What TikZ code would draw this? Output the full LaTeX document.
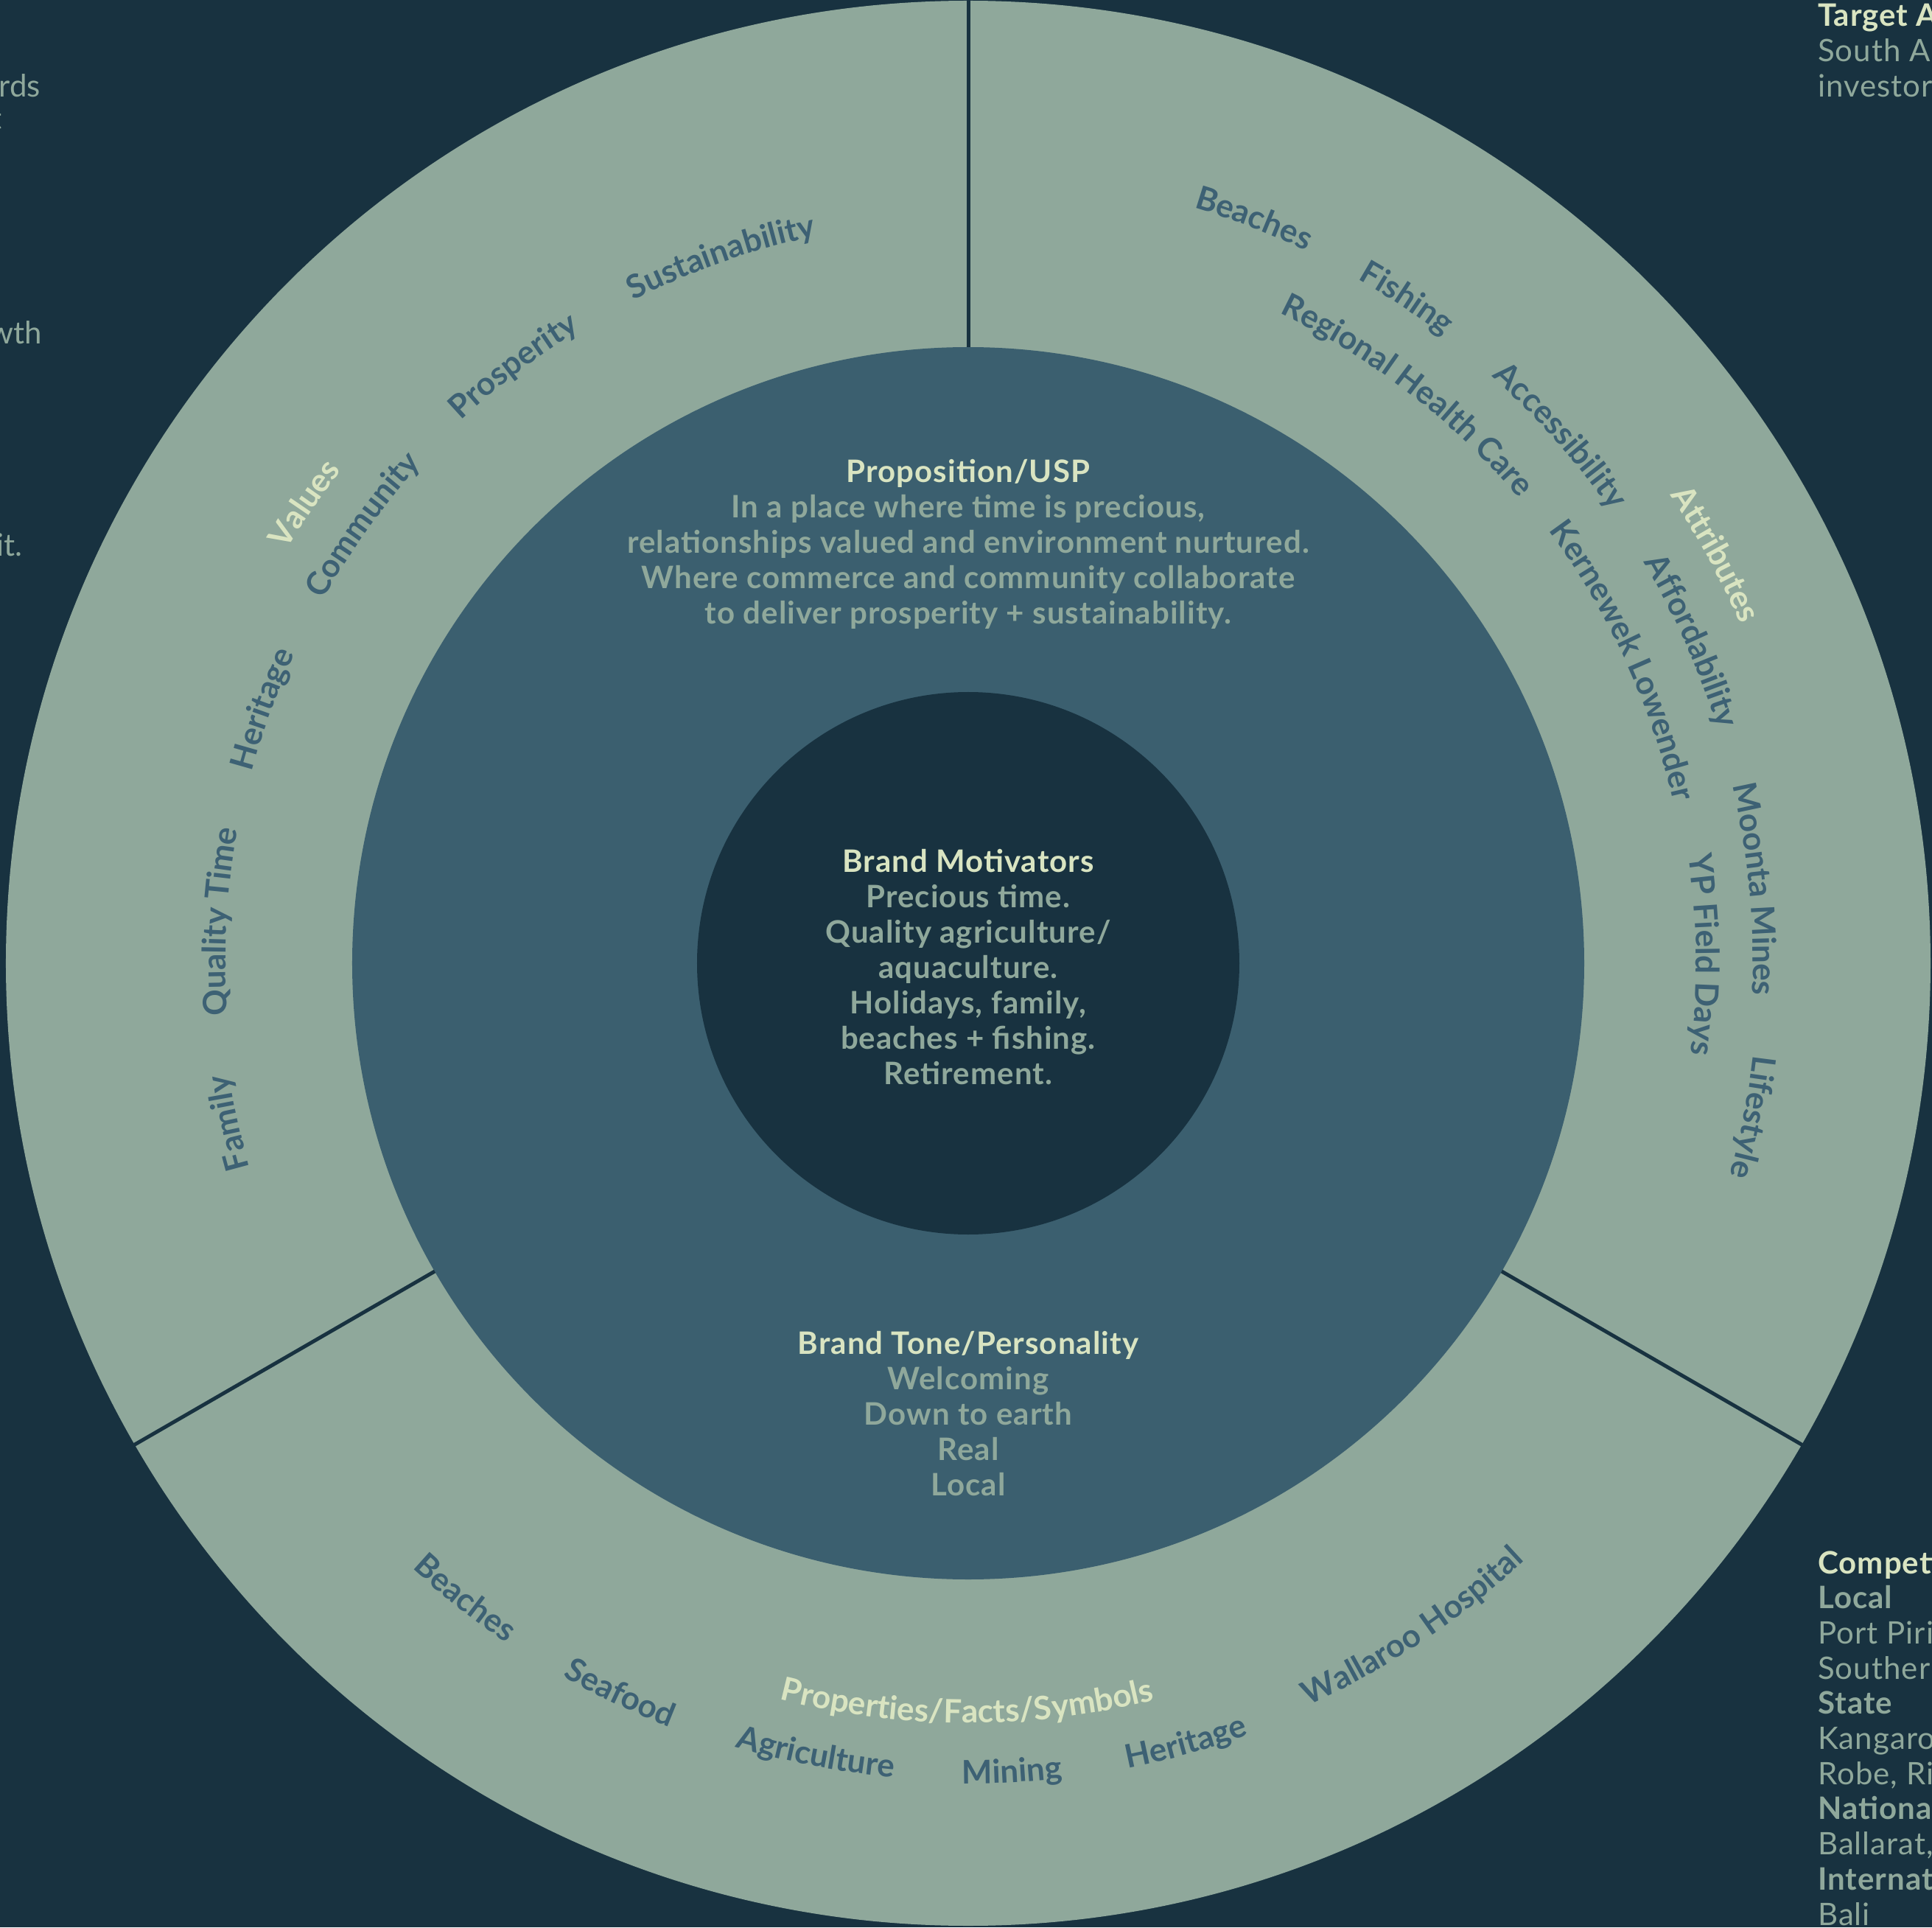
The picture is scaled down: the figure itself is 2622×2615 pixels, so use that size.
\documentclass[tikz,border=0pt]{standalone}
\usepackage{fontspec}
\setmainfont{Lato}
\usetikzlibrary{decorations.text}
\definecolor{bg}{HTML}{183240}
\definecolor{sage}{HTML}{8FA89B}
\definecolor{mid}{HTML}{3B5F6F}
\definecolor{cream}{HTML}{D9E4C1}
\definecolor{ringtxt}{HTML}{3D6174}
\newcommand\bodyfont{\fontsize{42}{48}\selectfont}
\newcommand\widen{\addfontfeatures{LetterSpace=2.5}}
% clockwise arc word (letters outward): radius, centre angle, colour, text
\newcommand\cwword[4]{\path[decorate,decoration={text along path,text align=center,
  text={|\fontsize{44}{48}\selectfont\bfseries\color{#3}|#4}}]
  ({#2+45}:#1) arc[start angle={#2+45},end angle={#2-45},radius=#1];}
% counter-clockwise arc word (letters inward)
\newcommand\ccwword[4]{\path[decorate,decoration={text along path,text align=center,
  text={|\fontsize{44}{48}\selectfont\bfseries\color{#3}|#4}}]
  ({#2-45}:#1) arc[start angle={#2-45},end angle={#2+45},radius=#1];}
\tikzset{
  centretext/.style={align=center,text=sage,font=\bodyfont\bfseries\widen,inner sep=0pt},
  sidereg/.style={anchor=base west,text=sage,font=\bodyfont\widen,inner sep=0pt},
  sidebold/.style={anchor=base west,text=sage,font=\bodyfont\bfseries\widen,inner sep=0pt},
  sidehead/.style={anchor=base west,text=cream,font=\bodyfont\bfseries\widen,inner sep=0pt},
  leftfrag/.style={anchor=base east,text=sage,font=\bodyfont,inner sep=0pt},
  divider/.style={draw=bg,line width=5pt}
}
\begin{document}
\begin{tikzpicture}[x=1pt,y=1pt]
\useasboundingbox (-1314,-1308) rectangle (1308,1307);
\clip (-1314,-1308) rectangle (1308,1307);
\fill[bg] (-1314,-1308) rectangle (1308,1307);
% rings
\fill[sage] (0,0) circle[radius=1306];
\fill[mid] (0,0) circle[radius=836];
\fill[bg] (0,0) circle[radius=368];
% dividers
\coordinate (d1a) at (90:836);  \coordinate (d1b) at (90:1330);
\coordinate (d2a) at (210:836); \coordinate (d2b) at (210:1330);
\coordinate (d3a) at (330:836); \coordinate (d3b) at (330:1330);
\draw[divider] (d1a) -- (d1b);
\draw[divider] (d2a) -- (d2b);
\draw[divider] (d3a) -- (d3b);
% centre texts
\node[centretext] (usp) at (0,569) {\textcolor{cream}{Proposition/USP}\\
In a place where time is precious,\\
relationships valued and environment nurtured.\\
Where commerce and community collaborate\\
to deliver prosperity + sustainability.};
\node[centretext] (motiv) at (0,-5) {\textcolor{cream}{Brand Motivators}\\
Precious time.\\
Quality agriculture/\\
aquaculture.\\
Holidays, family,\\
beaches + fishing.\\
Retirement.};
\node[centretext] (tone) at (0,-611) {\textcolor{cream}{Brand Tone/Personality}\\
Welcoming\\
Down to earth\\
Real\\
Local};
% Values segment
\cwword{1008}{109.3}{ringtxt}{Sustainability}
\cwword{1008}{127.3}{ringtxt}{Prosperity}
\cwword{1005}{144.1}{ringtxt}{Community}
\cwword{1082}{145.3}{cream}{Values}
\cwword{1006}{160.2}{ringtxt}{Heritage}
\cwword{1008}{176.8}{ringtxt}{Quality Time}
\cwword{1014}{192.2}{ringtxt}{Family}
% Attributes segment
\cwword{1070}{69.0}{ringtxt}{Beaches}
\cwword{1068}{56.6}{ringtxt}{Fishing}
\cwword{978}{52.3}{ringtxt}{Regional Health Care}
\cwword{1067}{41.7}{ringtxt}{Accessibility}
\cwword{1145}{28.7}{cream}{Attributes}
\cwword{1066}{24.0}{ringtxt}{Affordability}
\cwword{982}{24.8}{ringtxt}{Kernewek Lowender}
\cwword{1065}{5.4}{ringtxt}{Moonta Mines}
\cwword{988}{0.7}{ringtxt}{YP Field Days}
\cwword{1073}{-11.1}{ringtxt}{Lifestyle}
% Properties segment
\ccwword{1115}{231.6}{ringtxt}{Beaches}
\ccwword{1113}{244.5}{ringtxt}{Seafood}
\ccwword{1031}{269.9}{cream}{Properties/Facts/Symbols}
\ccwword{1109}{259.1}{ringtxt}{Agriculture}
\ccwword{1113}{273.1}{ringtxt}{Mining}
\ccwword{1114}{285.6}{ringtxt}{Heritage}
\ccwword{1108}{303.8}{ringtxt}{Wallaroo Hospital}
% right side (clipped) texts
\node[sidehead] (ta) at (1153,1271) {Target Au};
\node[sidereg] (tb) at (1153,1223) {South Au};
\node[sidereg] (tc) at (1153,1175) {investors};
\node[sidehead] (c0) at (1153,-828) {Competi};
\node[sidebold] (c1) at (1153,-875.7) {Local};
\node[sidereg] (c2) at (1153,-923.4) {Port Pirie};
\node[sidereg] (c3) at (1153,-971.1) {Southern};
\node[sidebold] (c4) at (1153,-1018.8) {State};
\node[sidereg] (c5) at (1153,-1066.5) {Kangaroo};
\node[sidereg] (c6) at (1153,-1114.2) {Robe, Riv};
\node[sidebold] (c7) at (1153,-1161.9) {National};
\node[sidereg] (c8) at (1153,-1209.6) {Ballarat,};
\node[sidebold] (c9) at (1153,-1257.3) {Internati};
\node[sidereg] (c10) at (1153,-1305) {Bali};
% left side (clipped) fragments
\node[leftfrag] (l1) at (-1259,1175) {rds};
\node[leftfrag] (l2) at (-1311,1131) {t};
\node[leftfrag] (l3) at (-1257,840) {wth};
\node[leftfrag] (l4) at (-1283,552) {it.};
\end{tikzpicture}
\end{document}
